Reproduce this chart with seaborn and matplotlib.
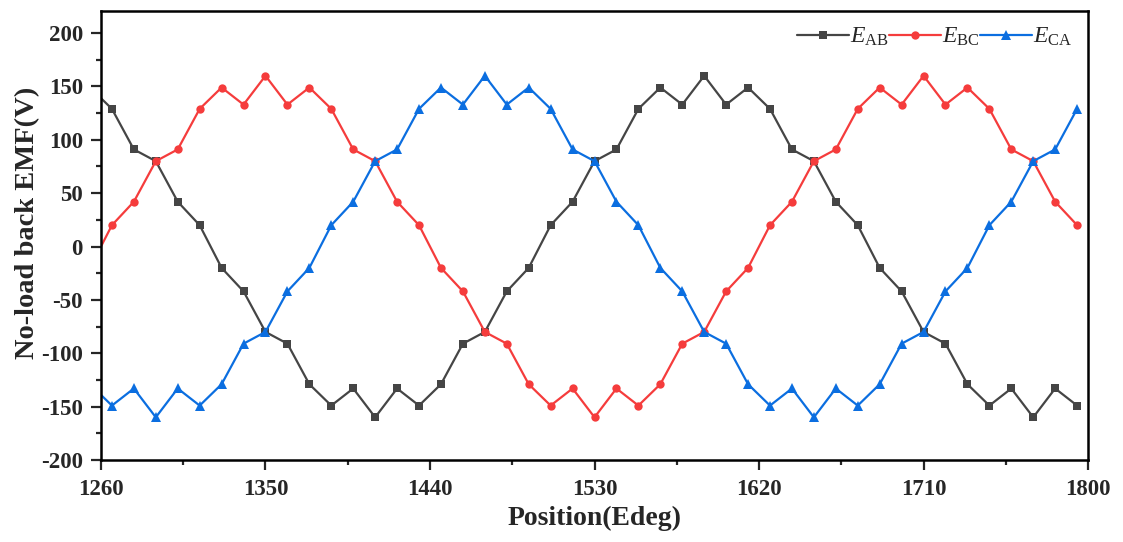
import numpy as np
import pandas as pd
import matplotlib
matplotlib.use("Agg")
import matplotlib.pyplot as plt
import seaborn as sns
from matplotlib.ticker import MultipleLocator

# position in electrical degrees (one sample every 12 Edeg)
position = np.arange(1254, 1795, 12)

e_ab = [149, 129, 91, 80, 42, 20, -20, -42, -80, -91, -129, -149, -133, -160,
        -133, -149, -129, -91, -80, -42, -20, 20, 42, 80, 91, 129, 149, 133,
        160, 133, 149, 129, 91, 80, 42, 20, -20, -42, -80, -91, -129, -149,
        -133, -160, -133, -149]
e_bc = [-20, 20, 42, 80, 91, 129, 149, 133, 160, 133, 149, 129, 91, 80,
        42, 20, -20, -42, -80, -91, -129, -149, -133, -160, -133, -149, -129, -91,
        -80, -42, -20, 20, 42, 80, 91, 129, 149, 133, 160, 133, 149, 129,
        91, 80, 42, 20]
e_ca = [-129, -149, -133, -160, -133, -149, -129, -91, -80, -42, -20, 20, 42, 80,
        91, 129, 149, 133, 160, 133, 149, 129, 91, 80, 42, 20, -20, -42,
        -80, -91, -129, -149, -133, -160, -133, -149, -129, -91, -80, -42, -20, 20,
        42, 80, 91, 129]

df = pd.DataFrame({"pos": position, "EAB": e_ab, "EBC": e_bc, "ECA": e_ca})

sns.set_style("ticks")
plt.rcParams['font.family'] = ['Liberation Serif', 'DejaVu Serif']
plt.rcParams['mathtext.fontset'] = 'custom'
plt.rcParams['mathtext.rm'] = 'Liberation Serif'
plt.rcParams['mathtext.it'] = 'Liberation Serif:italic'
plt.rcParams['axes.unicode_minus'] = False

fig = plt.figure(figsize=(11.23, 5.42), dpi=100)
ax = fig.add_axes([0.0899, 0.1513, 0.879, 0.829])

sns.lineplot(data=df, x="pos", y="EAB", ax=ax, color="#454545", lw=1.6,
             marker="s", markersize=6, markeredgewidth=0, label=r"$E_{\mathrm{AB}}$")
sns.lineplot(data=df, x="pos", y="EBC", ax=ax, color="#f53c3c", lw=1.6,
             marker="o", markersize=6, markeredgewidth=0, label=r"$E_{\mathrm{BC}}$")
sns.lineplot(data=df, x="pos", y="ECA", ax=ax, color="#0b6ee0", lw=1.6,
             marker="^", markersize=7, markeredgewidth=0, label=r"$E_{\mathrm{CA}}$")

ax.set_xlim(1260, 1800)
ax.set_ylim(-200, 221)
ax.xaxis.set_major_locator(MultipleLocator(90))
ax.xaxis.set_minor_locator(MultipleLocator(45))
ax.yaxis.set_major_locator(MultipleLocator(50))
ax.yaxis.set_minor_locator(MultipleLocator(25))
ax.tick_params(which="major", direction="out", length=7, width=1.6, labelsize=16.5)
ax.tick_params(which="minor", direction="out", length=3.5, width=1.6)
ax.tick_params(axis="x", which="major", pad=7)
ax.tick_params(axis="y", which="major", pad=6)
for lab in ax.get_xticklabels() + ax.get_yticklabels():
    lab.set_fontweight("bold")
for sp in ax.spines.values():
    sp.set_linewidth(1.8)
    sp.set_color("black")

ax.set_xlabel("Position(Edeg)", fontsize=20, fontweight="bold", labelpad=4)
ax.set_ylabel("No-load back EMF(V)", fontsize=20.5, fontweight="bold")
ax.yaxis.set_label_coords(-0.062, 0.527)

ax.legend(loc="upper right", ncol=3, frameon=False, fontsize=17,
          handlelength=2.2, handletextpad=0.05, columnspacing=0.0,
          borderaxespad=0.25)

fig.savefig("out.png", dpi=100)
